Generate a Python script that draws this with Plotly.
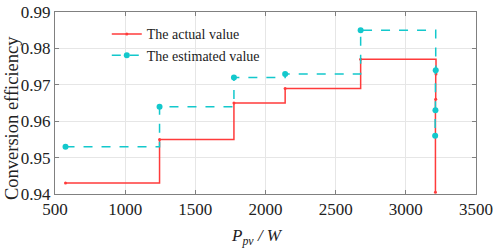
import plotly.graph_objects as go

# Data
actual_x = [575, 1245, 1775, 2140, 2678, 3215, 3213, 3211]
actual_y = [0.943, 0.955, 0.965, 0.969, 0.977, 0.973, 0.966, 0.9405]
est_x = [575, 1245, 1775, 2140, 2678, 3213, 3211, 3209]
est_y = [0.953, 0.964, 0.972, 0.973, 0.985, 0.974, 0.963, 0.956]

x_ticks = [500, 1000, 1500, 2000, 2500, 3000, 3500]
y_ticks = [0.94, 0.95, 0.96, 0.97, 0.98, 0.99]

x_title = "<i>P</i><sub><i>pv</i></sub><i> / W</i>"
y_title = "Conversion efficiency"

RED = "#ff3b3b"
CYAN = "#13c8cc"
FONT = "Liberation Serif"

fig = go.Figure()
fig.add_trace(go.Scatter(
    x=actual_x, y=actual_y, mode="lines+markers", name="The actual value",
    line=dict(color=RED, width=1.5, shape="hv"),
    marker=dict(color=RED, size=3),
))
fig.add_trace(go.Scatter(
    x=est_x, y=est_y, mode="lines+markers", name="The estimated value",
    line=dict(color=CYAN, width=1.5, shape="hv", dash="dash"),
    marker=dict(color=CYAN, size=6),
))

axis_common = dict(
    showline=True, linecolor="#808080", linewidth=1, mirror="ticks",
    ticks="inside", ticklen=4, tickcolor="#808080",
    showgrid=True, gridcolor="#e6e6e6", gridwidth=1,
    zeroline=False, automargin=False,
    tickfont=dict(family=FONT, size=17, color="#222"),
)

fig.update_layout(
    width=498, height=251,
    margin=dict(l=55, r=22, t=12, b=57),
    paper_bgcolor="white", plot_bgcolor="white",
    font=dict(family=FONT, color="#222"),
    showlegend=True,
    legend=dict(
        x=0.123, y=0.965, xanchor="left", yanchor="top",
        bgcolor="rgba(255,255,255,0)", borderwidth=0,
        font=dict(family=FONT, size=14, color="#222"),
        tracegroupgap=0, itemwidth=30,
    ),
    xaxis=dict(range=[500, 3500], tickvals=x_ticks, **axis_common),
    yaxis=dict(range=[0.94, 0.99], tickvals=y_ticks, tickformat=".2f",
               **axis_common),
    annotations=[
        dict(text=x_title, xref="paper", yref="paper", x=0.48, y=-0.236,
             xanchor="center", yanchor="middle", showarrow=False,
             font=dict(family=FONT, size=17, color="#222")),
        dict(text=y_title, xref="paper", yref="paper", x=-0.128, y=0.418,
             xanchor="left", yanchor="middle", showarrow=False,
             textangle=-90, borderpad=0,
             font=dict(family=FONT, size=18.5, color="#222")),
    ],
)

fig.write_html("out.html", config={"displayModeBar": False},
               post_script="document.body.style.margin='0';")
